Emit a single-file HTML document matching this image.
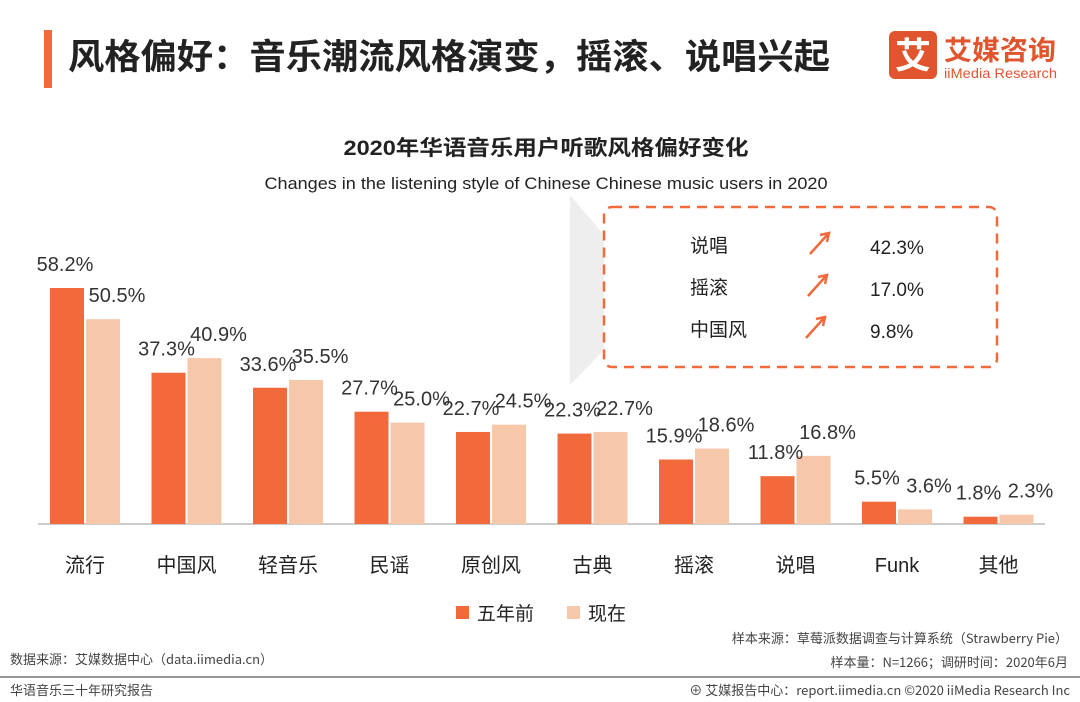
<!DOCTYPE html>
<html><head><meta charset="utf-8"><style>
body{margin:0;background:#fff;font-family:"Liberation Sans","Noto Sans CJK SC",sans-serif;}
#root{position:relative;width:1080px;height:702px;overflow:hidden;}
</style></head><body>
<div id="root">
<svg width="1080" height="702" id="svg" style="position:absolute;left:0;top:0">
<rect x="44" y="30" width="8" height="58" fill="#f26a3c"/>
<text x="68" y="69" font-size="35" font-weight="bold" fill="#222" textLength="762" lengthAdjust="spacingAndGlyphs" font-family="Liberation Sans,Noto Sans CJK SC,sans-serif">风格偏好：音乐潮流风格演变，摇滚、说唱兴起</text>
<g>
<rect x="889" y="31" width="48" height="48" rx="6" fill="#e0552d"/>
<text x="913" y="68" font-size="36" font-weight="bold" fill="#fff" text-anchor="middle" font-family="Noto Sans CJK SC,sans-serif">艾</text>
<text x="944" y="60" font-size="27" font-weight="bold" fill="#e0552d" textLength="112" lengthAdjust="spacingAndGlyphs" font-family="Noto Sans CJK SC,sans-serif">艾媒咨询</text>
<text x="944" y="78" font-size="14" fill="#e0552d" textLength="113" lengthAdjust="spacingAndGlyphs" font-family="Liberation Sans,sans-serif">iiMedia Research</text>
</g>
<text x="546" y="155" font-size="21" font-weight="bold" fill="#222" text-anchor="middle" textLength="405" lengthAdjust="spacingAndGlyphs" font-family="Liberation Sans,Noto Sans CJK SC,sans-serif">2020年华语音乐用户听歌风格偏好变化</text>
<text x="546" y="189" font-size="17" fill="#222" text-anchor="middle" textLength="563" lengthAdjust="spacingAndGlyphs" font-family="Liberation Sans,sans-serif">Changes in the listening style of Chinese Chinese music users in 2020</text>
<polygon points="570,195 604,235 604,350 570,385" fill="#eeeeee"/>
<rect x="604" y="207" width="393" height="160" rx="8" fill="#fff" stroke="#f26a3c" stroke-width="2.5" stroke-dasharray="10,7"/>
<g id="callout" font-size="19" fill="#222" font-family="Liberation Sans,Noto Sans CJK SC,sans-serif"></g>
<g id="bars"></g>
<g font-size="19" font-family="Noto Sans CJK SC,sans-serif" fill="#222">
<rect x="456" y="606" width="13" height="13" fill="#f26a3c"/>
<text x="477" y="620">五年前</text>
<rect x="567" y="606" width="13" height="13" fill="#f6c7a9"/>
<text x="588" y="620">现在</text>
</g>
<g font-size="13" fill="#444" font-family="Noto Sans CJK SC,sans-serif">
<text x="1068" y="643" text-anchor="end">样本来源：草莓派数据调查与计算系统（Strawberry Pie）</text>
<text x="1068" y="667" text-anchor="end">样本量：N=1266；调研时间：2020年6月</text>
<text x="10" y="664">数据来源：艾媒数据中心（data.iimedia.cn）</text>
<rect x="0" y="676" width="1080" height="2" fill="#999"/>
<text x="10" y="695">华语音乐三十年研究报告</text>
<text x="1070" y="695" text-anchor="end">⊕ 艾媒报告中心：report.iimedia.cn  ©2020  iiMedia Research  Inc</text>
</g>
</svg>
</div>
<script>
const categories=["流行","中国风","轻音乐","民谣","原创风","古典","摇滚","说唱","Funk","其他"];
const before=[58.2,37.3,33.6,27.7,22.7,22.3,15.9,11.8,5.5,1.8];
const now=[50.5,40.9,35.5,25.0,24.5,22.7,18.6,16.8,3.6,2.3];
const calloutNames=["说唱","摇滚","中国风"];
const calloutValues=["42.3%","17.0%","9.8%"];
const NS="http://www.w3.org/2000/svg";
const base=524,scale=4.055,x0=50,step=101.5,bw=34;
const y=v=>base-v*scale;
const xb=i=>x0+i*step;
const g=document.getElementById('bars');
function mk(tag,attrs,parent){const e=document.createElementNS(NS,tag);for(const k in attrs)e.setAttribute(k,attrs[k]);parent.appendChild(e);return e;}
const axis=mk('line',{x1:38,x2:1045,y1:base,y2:base,stroke:'#bbb','stroke-width':1.5},g);


categories.forEach((c,i)=>{
  const r1=mk('rect',{x:xb(i),y:y(before[i]),width:bw,height:before[i]*scale,fill:'#f26a3c'},g);
  
  
  const r2=mk('rect',{x:xb(i)+36,y:y(now[i]),width:bw,height:now[i]*scale,fill:'#f6c7a9'},g);
  
  
  const t1=mk('text',{x:xb(i)+bw/2-2,y:y(before[i])-17,'font-size':20,fill:'#333','text-anchor':'middle'},g);
  t1.textContent=before[i].toFixed(1)+'%';
  
  
  const t2=mk('text',{x:xb(i)+36+bw/2+14,y:y(now[i])-17,'font-size':20,fill:'#333','text-anchor':'middle'},g);
  t2.textContent=now[i].toFixed(1)+'%';
  
  
  const cl=mk('text',{x:xb(i)+35,y:572,'font-size':20,fill:'#222','text-anchor':'middle'},g);
  cl.textContent=c;
  
  
});
const cg=document.getElementById('callout');
calloutNames.forEach((n,i)=>{
  const yy=252+i*42;
  const t=mk('text',{x:690,y:yy},cg);t.textContent=n;
  
  
  const a=mk('path',{d:`M${810-i*2} ${yy+2} L${828-i*2} ${yy-18} M${820-i*2} ${yy-17} L${829-i*2} ${yy-19} L${827-i*2} ${yy-10}`,stroke:'#f26a3c','stroke-width':2.5,fill:'none'},cg);
  
  
  const v=mk('text',{x:870,y:yy+2},cg);v.textContent=calloutValues[i];
  
  
});
</script>
</body></html>
